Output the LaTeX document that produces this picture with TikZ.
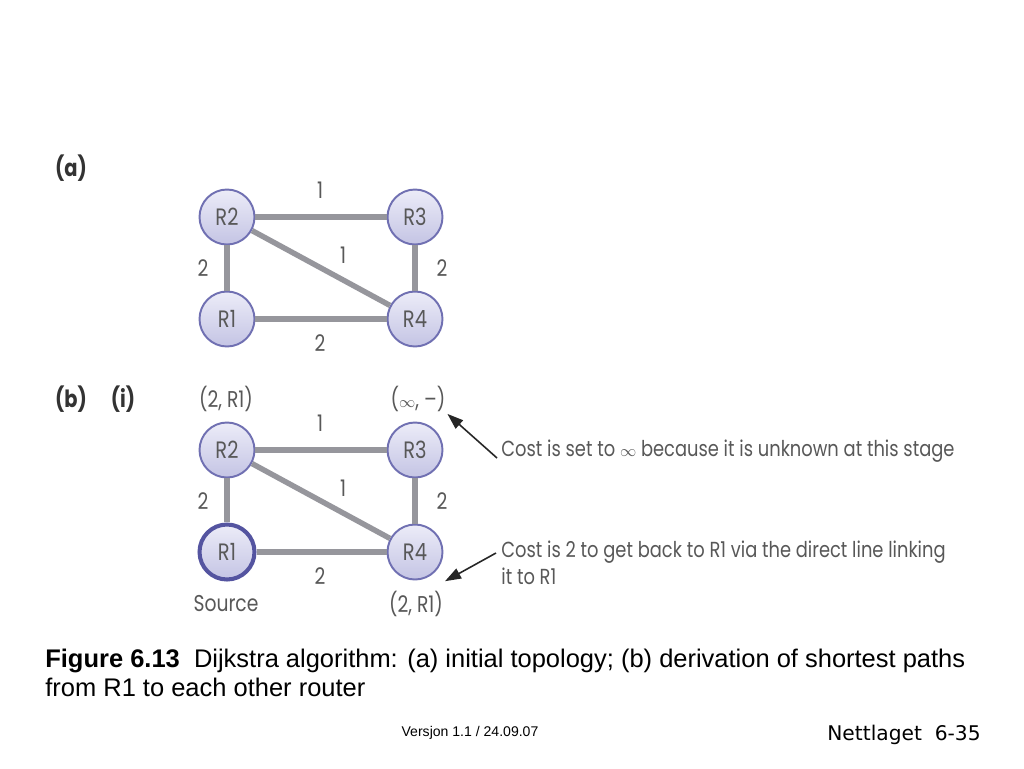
\documentclass[tikz,border=0pt]{standalone}
\usepackage{fontspec}
\setmainfont{Liberation Sans}
\newfontfamily\geo[FakeStretch=0.82]{Poppins}
\newfontfamily\hand{DejaVu Sans}
\usetikzlibrary{arrows.meta,shapes}

\definecolor{routerline}{RGB}{112,112,178}
\definecolor{sourceline}{RGB}{84,84,160}
\definecolor{routertop}{RGB}{236,236,248}
\definecolor{routerbot}{RGB}{196,196,228}
\definecolor{linkgray}{RGB}{150,150,156}
\definecolor{labelgray}{RGB}{88,88,88}

\begin{document}
\begin{tikzpicture}[x=0.02cm,y=-0.02cm,
                router/.style={circle,draw=routerline,line width=1.1pt,minimum size=1.1cm,inner sep=0pt,
                    top color=routertop,bottom color=routerbot,text=labelgray,font=\geo\fontsize{13.5}{15}\selectfont},
                source/.style={router,draw=sourceline,line width=2.3pt},
                link/.style={draw=linkgray,line width=3.1pt},
                cost/.style={inner sep=1pt,text=labelgray,font=\geo\fontsize{13}{15}\selectfont},
                panel/.style={text=black!80,font=\geo\bfseries\fontsize{13.5}{15}\selectfont},
                note/.style={anchor=west,align=left,inner sep=0pt,text=labelgray,font=\geo\fontsize{12.4}{15.3}\selectfont},
                pointer/.style={draw=black!85,line width=0.9pt,-{Triangle[length=3.2mm,width=2.2mm]}},
                caption/.style={anchor=base west,inner sep=0pt,font=\fontsize{14.5}{17}\selectfont},
            ]

                \useasboundingbox[fill=white] (0,0) rectangle (1024,768);

                % panel labels
                \node[panel] (pa) at (71,168) {(a)};
                \node[panel] (pb) at (71,399) {(b)};
                \node[panel] (pi) at (123,399) {(i)};

                % the same network twice: (a) and (b)(i), R1 is the source in (b)
                \foreach \p/\y/\src in {a/217/router,b/450/source}{
                    \node[router] (\p R2) at (227,\y) {R2};
                    \node[router] (\p R3) at (415,\y) {R3};
                    \node[\src] (\p R1) at (227,\y+102) {R1};
                    \node[router] (\p R4) at (415,\y+102) {R4};

                    \draw[link] (\p R2) -- (\p R3);
                    \draw[link] (\p R2) -- (\p R4);
                    \draw[link] (\p R2) -- (\p R1);
                    \draw[link] (\p R3) -- (\p R4);
                    \draw[link] (\p R1) -- (\p R4);

                    % link costs
                    \node[cost] at (320,\y-27) {1};
                    \node[cost] at (343,\y+38) {1};
                    \node[cost] at (203,\y+51) {2};
                    \node[cost] at (442,\y+51) {2};
                    \node[cost] at (320,\y+126) {2};
                }

                % distances seen from R1
                \node[cost] (dR2) at (226,399) {(2, R1)};
                \node[cost] (dR3) at (418,399) {({\small$\infty$}, –)};
                \node[cost] (src) at (226,604) {Source};
                \node[cost] (dR4) at (416,604) {(2, R1)};

                % remarks
                \node[note] (noteA) at (501,451) {Cost is set to {\small$\infty$} because it is unknown at this stage};
                \node[note] (noteB) at (501,563) {Cost is 2 to get back to R1 via the direct line linking\\it to R1};
                \coordinate (tailA) at (497,458);
                \coordinate (tailB) at (496,553);
                \draw[pointer] (tailA) -- (dR3.south east);
                \draw[pointer] (tailB) -- ([yshift=4.5pt]dR4.north east);

                % caption
                \node[caption] (caption) at (45,667)
                    {\textbf{Figure 6.13}\ \ Dijkstra algorithm: (a) initial topology; (b) derivation of shortest paths};
                \node[caption] (caption2) at (45,696) {from R1 to each other router};

                % footer
                \node[font=\fontsize{8}{10}\selectfont] (version) at (470,733) {Versjon 1.1 / 24.09.07};
                \node[font=\hand\fontsize{11.5}{13}\selectfont] (slide) at (904,735) {Nettlaget\ \ 6-35};

            \end{tikzpicture}
\end{document}
